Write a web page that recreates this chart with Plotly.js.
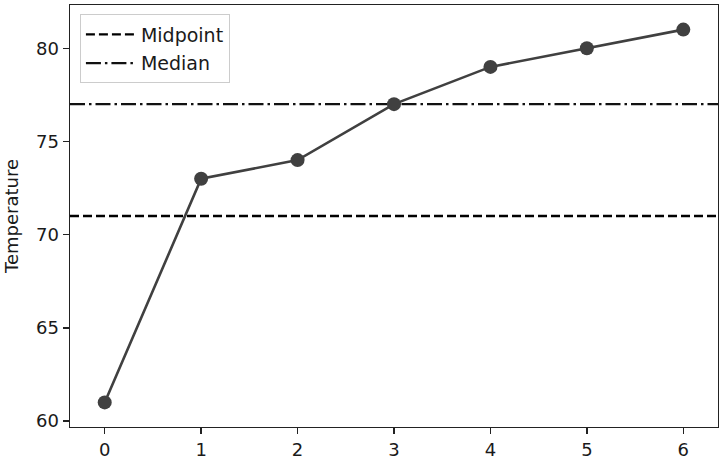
<!DOCTYPE html>
<html>
<head>
<meta charset="utf-8">
<script src="https://cdn.plot.ly/plotly-3.0.1.min.js"></script>
<style>html,body{margin:0;padding:0;background:#fff;}</style>
</head>
<body>
<div id="chart" style="width:721px;height:461px;"></div>
<script>
const xValues = [0, 1, 2, 3, 4, 5, 6];
const temperature = [61, 73, 74, 77, 79, 80, 81];
const midpoint = 71;
const median = 77;
const xRange = [-0.36, 6.36];
const yRange = [59.68, 82.32];
const yTicks = [60, 65, 70, 75, 80];

const FONT = 'DejaVu Sans';
const traces = [
  {
    x: xRange, y: [midpoint, midpoint], mode: 'lines', name: 'Midpoint', legendgroup: 'a',
    line: {color: '#000', width: 2.4, dash: '9px,4px'}, hoverinfo: 'skip'
  },
  {
    x: xRange, y: [median, median], mode: 'lines', name: 'Median', legendgroup: 'b',
    line: {color: '#111', width: 2.2, dash: '15px,4px,2.5px,4px'}, hoverinfo: 'skip'
  },
  {
    x: xValues, y: temperature, mode: 'lines+markers', showlegend: false,
    line: {color: '#404040', width: 2.6},
    marker: {color: '#404040', size: 14}
  }
];

const layout = {
  width: 721, height: 461,
  margin: {l: 70, r: 3, t: 4.5, b: 34.3},
  paper_bgcolor: '#fff', plot_bgcolor: '#fff',
  font: {family: FONT, size: 18, color: '#000'},
  showlegend: true,
  legend: {
    x: 0.015, y: 0.978, xanchor: 'left', yanchor: 'top',
    bordercolor: '#cccccc', borderwidth: 1.2, bgcolor: 'rgba(255,255,255,0.8)',
    font: {family: FONT, size: 19, color: '#1a1a1a'},
    traceorder: 'grouped', tracegroupgap: 1, itemwidth: 50
  },
  xaxis: {
    range: xRange, tickmode: 'array', tickvals: xValues, ticktext: xValues.map(String),
    tickfont: {family: FONT, size: 18, color: '#1a1a1a'},
    showgrid: false, zeroline: false, showline: true, linecolor: '#222', linewidth: 1.4,
    mirror: true, ticks: 'outside', ticklen: 6, tickcolor: '#222', tickwidth: 1.4
  },
  yaxis: {
    range: yRange, tickmode: 'array', tickvals: yTicks, ticktext: yTicks.map(String),
    tickfont: {family: FONT, size: 18, color: '#1a1a1a'},
    title: {text: 'Temperature', font: {family: FONT, size: 18, color: '#1a1a1a'}, standoff: 12},
    showgrid: false, zeroline: false, showline: true, linecolor: '#222', linewidth: 1.4,
    mirror: true, ticks: 'outside', ticklen: 6, tickcolor: '#222', tickwidth: 1.4
  }
};

Plotly.newPlot('chart', traces, layout, {displayModeBar: false, staticPlot: true});
</script>
</body>
</html>
